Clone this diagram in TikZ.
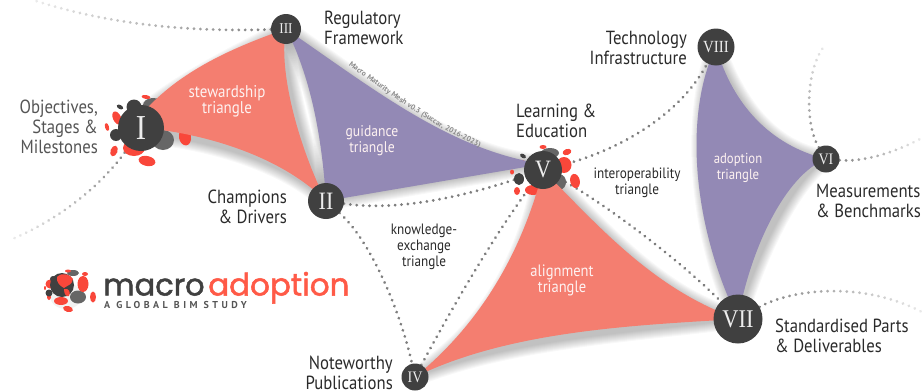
\documentclass[tikz,border=0pt]{standalone}
\usepackage{fontspec}
\setmainfont{PT Sans}[FakeStretch=0.88]
\newfontfamily\romanfont{Liberation Serif}[FakeStretch=0.88]
\newfontfamily\logofont{Poppins}[FakeBold=1.6]
\newfontfamily\logosub{PT Sans}[LetterSpace=35]
\newfontfamily\meshfont{PT Sans}[LetterSpace=8]
\usetikzlibrary{decorations.markings,decorations.text}
\definecolor{tred}{HTML}{F47E70}
\definecolor{tpurple}{HTML}{9389B5}
\definecolor{nodegray}{HTML}{404040}
\definecolor{blobred}{HTML}{F9473A}
\definecolor{blobgray}{HTML}{666666}
\definecolor{dotgray}{HTML}{7E7E7E}
\definecolor{labeldark}{HTML}{2A2A2A}
\definecolor{labelgray}{HTML}{555555}
\definecolor{meshgray}{HTML}{8A8A8A}
\definecolor{logored}{HTML}{FF5A47}
\pgfdeclarelayer{background}
\pgfsetlayers{background,main}
\tikzset{
  x=1pt,y=-1pt,
  numnode/.style={circle,fill=nodegray,inner sep=0pt,text=white!93!black,font=\romanfont},
  lab/.style={font=\fontsize{19}{20}\selectfont,text=labeldark,inner sep=0pt},
  tlab/.style={font=\fontsize{15}{16}\selectfont,text=labeldark,align=center,inner sep=0pt},
  wlab/.style={text=white!90!tred,align=center,inner sep=0pt},
  dotline/.style={decoration={markings,mark=between positions 0 and 1 step 6.4pt with {\fill[dotgray] (0,0) circle (1.55pt);}},postaction={decorate}},
  fadedots/.style={decoration={markings,mark=between positions 0 and 1 step 6.4pt with {\pgfmathsetmacro\fd{max(0,100-\pgfkeysvalueof{/pgf/decoration/mark info/sequence number}/#1*640)}\fill[dotgray!\fd!white] (0,0) circle (1.55pt);}},postaction={decorate}},
  softshadow/.style={fill=black,draw=black,line join=round},
  shadowgroup/.style={transparency group,opacity=0.028,shift={(6,7)}},
  rb/.style={fill=blobred},
  db/.style={fill=nodegray},
  gb/.style={fill=blobgray},
}
\def\triStew{(I.center) ++(0,-13) .. controls (175,75) and (225,50) .. (III.center) .. controls (278,70) and (298,145) .. (II.center) .. controls (285,160) and (215,135) .. (145,128) -- cycle}
\def\triGuid{(III.center) .. controls (375,90) and (450,150) .. ([yshift=6pt]V.center) -- (II.center) .. controls (322,135) and (310,75) .. (III.center) -- cycle}
\def\triAlign{(V.center) .. controls (600,228) and (655,290) .. (VII.center) .. controls (640,325) and (510,330) .. (IV.center) .. controls (475,328) and (520,260) .. (V.center) -- cycle}
\def\triAdopt{(VIII.center) .. controls (733,105) and (770,145) .. (VI.center) .. controls (785,175) and (750,250) .. (VII.center) .. controls (690,220) and (685,110) .. (VIII.center) -- cycle}
\begin{document}
\begin{tikzpicture}
\useasboundingbox (0,0) rectangle (922,391);
% numbered nodes
\node[numnode,minimum size=46pt,font=\romanfont\fontsize{35}{35}\selectfont] (I) at (141,128) {I};
\node[numnode,minimum size=36pt,font=\romanfont\fontsize{25}{25}\selectfont] (II) at (326,201) {II};
\node[numnode,minimum size=30pt,font=\romanfont\fontsize{15}{15}\selectfont] (III) at (286,29) {III};
\node[numnode,minimum size=27pt,font=\romanfont\fontsize{16}{16}\selectfont] (IV) at (415,377) {IV};
\node[numnode,minimum size=38pt,font=\romanfont\fontsize{25}{25}\selectfont] (V) at (543,170) {V};
\node[numnode,minimum size=27pt,font=\romanfont\fontsize{16}{16}\selectfont] (VI) at (826,159) {VI};
\node[numnode,minimum size=49pt,font=\romanfont\fontsize{25.5}{26}\selectfont] (VII) at (738,319) {VII};
\node[numnode,minimum size=37pt,font=\romanfont\fontsize{17}{17}\selectfont] (VIII) at (716,47) {VIII};
% free ends of the fading connectors
\coordinate (endI) at (10,240);
\coordinate (endIII) at (33,0);
\coordinate (endVIa) at (825,45);
\coordinate (endVIb) at (922,138);
\coordinate (endVII) at (922,312);
\begin{pgfonlayer}{background}
% soft shadows
\foreach \w in {1,3,...,19}{
  \begin{scope}[shadowgroup]\path[softshadow,line width=\w pt] \triStew;\end{scope}
  \begin{scope}[shadowgroup]\path[softshadow,line width=\w pt] \triGuid;\end{scope}
  \begin{scope}[shadowgroup]\path[softshadow,line width=\w pt] \triAlign;\end{scope}
  \begin{scope}[shadowgroup]\path[softshadow,line width=\w pt] \triAdopt;\end{scope}
}
% connectors
\path[dotline] (II) .. controls (400,212) and (470,195) .. (V);
\path[dotline] (II) .. controls (370,240) and (400,310) .. (IV);
\path[dotline] (IV) .. controls (440,330) and (490,240) .. (V);
\path[dotline] (V) .. controls (620,150) and (680,115) .. (VIII);
\path[dotline] (V) .. controls (600,200) and (680,260) .. (VII);
\path[fadedots=185] (I) .. controls (110,175) and (70,215) .. (endI);
\path[fadedots=290] (III) .. controls (190,32) and (110,25) .. (endIII);
\path[fadedots=135] (VI) .. controls (805,125) and (805,70) .. (endVIa);
\path[fadedots=110] (VI) .. controls (860,162) and (890,155) .. (endVIb);
\path[fadedots=210] (VII) .. controls (790,290) and (860,280) .. (endVII);
% blobs around I
\fill[gb] (153,105) ellipse [x radius=10,y radius=7];
\fill[gb] (163,140) ellipse [x radius=11,y radius=10];
\fill[rb] (146,97) ellipse [x radius=4.5,y radius=2,rotate=-10];
\fill[rb,rotate around={25:(117,118)}] (117,118) ellipse [x radius=4,y radius=7];
\fill[rb,rotate around={15:(107,127)}] (107,127) ellipse [x radius=2,y radius=4];
\fill[rb,rotate around={-20:(114,151)}] (114,151) ellipse [x radius=3.5,y radius=5.5];
\fill[rb,rotate around={-12:(147,161)}] (147,161) ellipse [x radius=8.5,y radius=5];
\fill[rb,rotate around={10:(185,137)}] (185,137) ellipse [x radius=6,y radius=8.5];
\fill[rb] (134,148) ellipse [x radius=11,y radius=8];
\fill[db] (134,107) circle (7.5);
\fill[db] (116,135) circle (6);
\fill[db,rotate around={-30:(120,107)}] (120,107) ellipse [x radius=3.5,y radius=2];
% blobs around V
\fill[gb] (550,153) ellipse [x radius=9,y radius=5];
\fill[gb] (560,182) ellipse [x radius=6,y radius=7.5];
\fill[rb] (543,147) ellipse [x radius=3.5,y radius=2];
\fill[rb,rotate around={20:(567,152)}] (567,152) ellipse [x radius=4.5,y radius=3];
\fill[rb,rotate around={12:(575,181)}] (575,181) ellipse [x radius=4.8,y radius=7.2];
\fill[rb] (564,165) ellipse [x radius=7.5,y radius=8];
\fill[rb] (533,190) ellipse [x radius=8,y radius=5];
\fill[rb] (517,191) ellipse [x radius=3,y radius=4];
\fill[rb] (512,172) ellipse [x radius=2,y radius=2.5];
\fill[rb] (522,163) circle (3.2);
\fill[db,rotate around={-30:(523,156)}] (523,156) ellipse [x radius=3.2,y radius=2];
\fill[db] (519,179) ellipse [x radius=5,y radius=6];
% triangles
\fill[tred] \triStew;
\fill[tpurple] \triGuid;
\fill[tred] \triAlign;
\fill[tpurple] \triAdopt;
\end{pgfonlayer}
% node labels
\node[lab,align=right,text=labelgray,anchor=east] (lI) at (98,127) {Objectives,\\Stages \&\\Milestones};
\node[lab,align=right,anchor=east] (lII) at (287,207) {Champions\\\& Drivers};
\node[lab,align=left,anchor=west] (lIII) at (324,28) {Regulatory\\Framework};
\node[lab,align=right,anchor=east] (lIV) at (393,373) {Noteworthy\\Publications};
\node[lab,align=left,anchor=west] (lV) at (516,121) {Learning \&\\Education};
\node[lab,align=left,anchor=west] (lVI) at (816,201) {Measurements\\\& Benchmarks};
\node[lab,align=left,anchor=west] (lVII) at (775,336) {Standardised Parts\\\& Deliverables};
\node[lab,align=right,anchor=east] (lVIII) at (687,48) {Technology\\Infrastructure};
% triangle labels
\node[wlab,font=\fontsize{17}{16}\selectfont] (tS) at (227,101) {stewardship\\triangle};
\node[wlab,font=\fontsize{15.5}{16}\selectfont] (tG) at (372,141) {guidance\\triangle};
\node[wlab,font=\fontsize{16.5}{16}\selectfont] (tAl) at (562,280) {alignment\\triangle};
\node[wlab,font=\fontsize{14.5}{16}\selectfont] (tAd) at (738,168) {adoption\\triangle};
\node[tlab] (tK) at (424,247) {knowledge-\\exchange\\triangle};
\node[tlab] (tI) at (637,183) {interoperability\\triangle};
% mesh caption following the curve
\path[decorate,decoration={text along path,text align=center,raise=0pt,text={|\meshfont\bfseries\fontsize{7.5}{8}\selectfont\color{meshgray}|Macro Maturity Mesh v0.3 (Succar, 2016-2023)}}]
  (336,56) .. controls (385,92) and (440,133) .. (494,153);
% logo
\fill[black,opacity=0.05] (66,296) ellipse [x radius=16,y radius=13];
\fill[gb] (78,297) ellipse [x radius=8,y radius=6.5];
\fill[gb] (73,273) ellipse [x radius=6,y radius=3];
\fill[rb] (83,284) ellipse [x radius=5.5,y radius=8];
\fill[rb] (93,297) ellipse [x radius=3,y radius=5.5];
\fill[rb] (85,274) ellipse [x radius=3,y radius=2];
\fill[rb] (68,271) ellipse [x radius=3,y radius=1.5];
\fill[rb] (61,301) ellipse [x radius=7,y radius=4];
\fill[rb,rotate around={-15:(68,309)}] (68,309) ellipse [x radius=5,y radius=3];
\fill[rb] (49,297) ellipse [x radius=2,y radius=3];
\fill[rb] (45,288) ellipse [x radius=1,y radius=2];
\fill[rb] (50,284) circle (4.5);
\fill[db] (53,279) circle (3);
\fill[db] (49,293) circle (3.5);
\fill[db] (62,285) circle (12);
\fill[rb] (57,277) .. controls (62,272) and (70,274) .. (73,279) .. controls (72,285) and (68,285) .. (64,288) .. controls (60,286) and (56,282) .. (57,277) -- cycle;
\fill[rb] (64,289) .. controls (69,288) and (71,292) .. (69,296) .. controls (66,297) and (64,294) .. (64,289) -- cycle;
\node[anchor=base west,inner sep=0pt,text=nodegray,font=\logofont\fontsize{30.5}{31}\selectfont] (logoA) at (103,295.5) {macro};
\node[anchor=base west,inner sep=0pt,text=logored,font=\logofont\fontsize{31}{31}\selectfont] (logoB) at (208,295.5) {adoption};
\node[anchor=base west,inner sep=0pt,text=labelgray,font=\logosub\bfseries\fontsize{10}{10}\selectfont] (logoC) at (104,308) {A GLOBAL BIM STUDY};
\end{tikzpicture}
\end{document}
